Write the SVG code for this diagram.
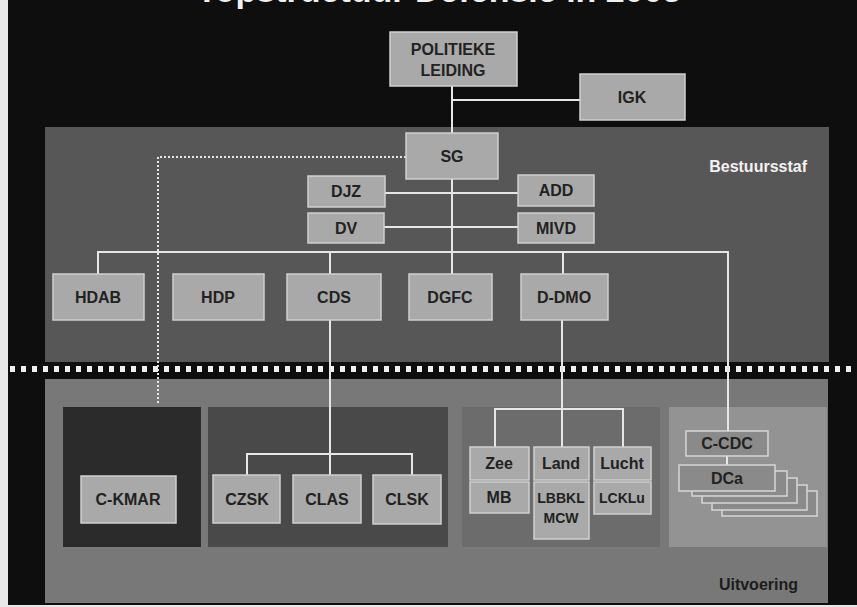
<svg xmlns="http://www.w3.org/2000/svg" width="857" height="607" viewBox="0 0 857 607">
<style>
  .node { fill: #a9a9a9; stroke: #cfcfcf; stroke-width: 1.5; }
  .cnode { fill: #8a8a8a; stroke: #d6d6d6; stroke-width: 1.5; }
  .lbl { font-family: "Liberation Sans", Arial, sans-serif; font-weight: bold; font-size: 16px; fill: #222; text-anchor: middle; }
  .sm { font-size: 14px; }
  .conn { stroke: #e6e6e6; stroke-width: 2; fill: none; }
  .dot { stroke: #e6e6e6; stroke-width: 2; fill: none; stroke-dasharray: 2 2; }
</style>
<rect x="0" y="0" width="857" height="607" fill="#e8e8e8"/>
<rect x="8" y="0" width="849" height="605" fill="#0e0e0e"/>
<text x="439" y="2" text-anchor="middle" font-family="Liberation Sans, Arial, sans-serif" font-weight="bold" font-size="34" fill="#f0f0f0">Topstructuur Defensie in 2005</text>

<g id="panels">
  <rect x="45" y="127" width="784" height="235" fill="#575757"/>
  <rect x="45" y="379" width="783" height="224" fill="#787878"/>
  <rect x="63" y="407" width="138" height="140" fill="#2b2b2b"/>
  <rect x="208" y="407" width="240" height="140" fill="#494949"/>
  <rect x="462" y="407" width="198" height="140" fill="#6c6c6c"/>
  <rect x="669" y="407" width="158" height="140" fill="#939393"/>
  <text x="807" y="172" text-anchor="end" font-family="Liberation Sans, Arial, sans-serif" font-weight="bold" font-size="16" fill="#f2f2f2">Bestuursstaf</text>
  <text x="798" y="590" text-anchor="end" font-family="Liberation Sans, Arial, sans-serif" font-weight="bold" font-size="16" fill="#1c1c1c">Uitvoering</text>
</g>

<g id="separator">
  <rect x="8" y="363" width="849" height="15" fill="#0e0e0e"/>
  <line x1="10" y1="369" x2="857" y2="369" stroke="#f0f0f0" stroke-width="6" stroke-dasharray="5 6"/>
</g>

<g id="connectors">
  <path class="conn" d="M452 86 V133 M452 100 H580 M452 179 V274 M385 193 H518 M384 227 H518"/>
  <path class="conn" d="M98 274 V252 H728 V431 M330 252 V274 M563 252 V274"/>
  <path class="conn" d="M330 320 V475 M247 475 V454 H412 V475"/>
  <path class="conn" d="M562 320 V447 M495 447 V409 H623 V447"/>
  <path class="conn" d="M727 456 V465"/>
  <path class="dot" d="M406 157 H158 V404"/>
</g>

<g id="POLITIEKE_LEIDING"><rect class="node" x="390" y="32" width="127" height="54"/><text class="lbl" x="453" y="55">POLITIEKE</text><text class="lbl" x="453" y="76">LEIDING</text></g>
<g id="IGK"><rect class="node" x="580" y="74" width="105" height="46"/><text class="lbl" x="632" y="103">IGK</text></g>
<g id="SG"><rect class="node" x="406" y="133" width="92" height="46"/><text class="lbl" x="452" y="162">SG</text></g>
<g id="DJZ"><rect class="node" x="308" y="176" width="77" height="31"/><text class="lbl" x="346" y="197">DJZ</text></g>
<g id="DV"><rect class="node" x="308" y="213" width="76" height="30"/><text class="lbl" x="346" y="234">DV</text></g>
<g id="ADD"><rect class="node" x="518" y="175" width="76" height="31"/><text class="lbl" x="556" y="196">ADD</text></g>
<g id="MIVD"><rect class="node" x="518" y="213" width="76" height="30"/><text class="lbl" x="556" y="234">MIVD</text></g>
<g id="HDAB"><rect class="node" x="53" y="274" width="91" height="46"/><text class="lbl" x="98" y="303">HDAB</text></g>
<g id="HDP"><rect class="node" x="173" y="274" width="91" height="46"/><text class="lbl" x="218" y="303">HDP</text></g>
<g id="CDS"><rect class="node" x="287" y="274" width="94" height="46"/><text class="lbl" x="334" y="303">CDS</text></g>
<g id="DGFC"><rect class="node" x="409" y="274" width="83" height="46"/><text class="lbl" x="450" y="303">DGFC</text></g>
<g id="D-DMO"><rect class="node" x="521" y="274" width="87" height="46"/><text class="lbl" x="564" y="303">D-DMO</text></g>

<g id="C-KMAR"><rect class="node" x="81" y="476" width="95" height="47"/><text class="lbl" x="128" y="505">C-KMAR</text></g>
<g id="CZSK"><rect class="node" x="213" y="475" width="67" height="48"/><text class="lbl" x="247" y="505">CZSK</text></g>
<g id="CLAS"><rect class="node" x="293" y="475" width="68" height="48"/><text class="lbl" x="327" y="505">CLAS</text></g>
<g id="CLSK"><rect class="node" x="373" y="475" width="68" height="49"/><text class="lbl" x="407" y="505">CLSK</text></g>

<g id="Zee"><rect class="node" x="470" y="447" width="59" height="33"/><text class="lbl" x="499" y="469">Zee</text></g>
<g id="MB"><rect class="node" x="470" y="482" width="59" height="31"/><text class="lbl" x="499" y="503">MB</text></g>
<g id="Land"><rect class="node" x="534" y="447" width="55" height="33"/><text class="lbl" x="561" y="469">Land</text></g>
<g id="LBBKL_MCW"><rect class="node" x="534" y="482" width="55" height="57"/><text class="lbl sm" x="561" y="503">LBBKL</text><text class="lbl sm" x="561" y="523">MCW</text></g>
<g id="Lucht"><rect class="node" x="594" y="447" width="57" height="33"/><text class="lbl" x="622" y="469">Lucht</text></g>
<g id="LCKLu"><rect class="node" x="594" y="482" width="57" height="32"/><text class="lbl sm" x="622" y="503">LCKLu</text></g>

<g id="C-CDC"><rect class="cnode" x="686" y="431" width="82" height="25"/><text class="lbl" x="727" y="449">C-CDC</text></g>
<g id="DCa">
  <rect class="cnode" x="722" y="491" width="95" height="25"/>
  <rect class="cnode" x="712" y="485" width="95" height="25"/>
  <rect class="cnode" x="702" y="478" width="95" height="25"/>
  <rect class="cnode" x="692" y="471" width="95" height="25"/>
  <rect class="cnode" x="679" y="465" width="96" height="26"/>
  <text class="lbl" x="727" y="484">DCa</text>
</g>
</svg>
